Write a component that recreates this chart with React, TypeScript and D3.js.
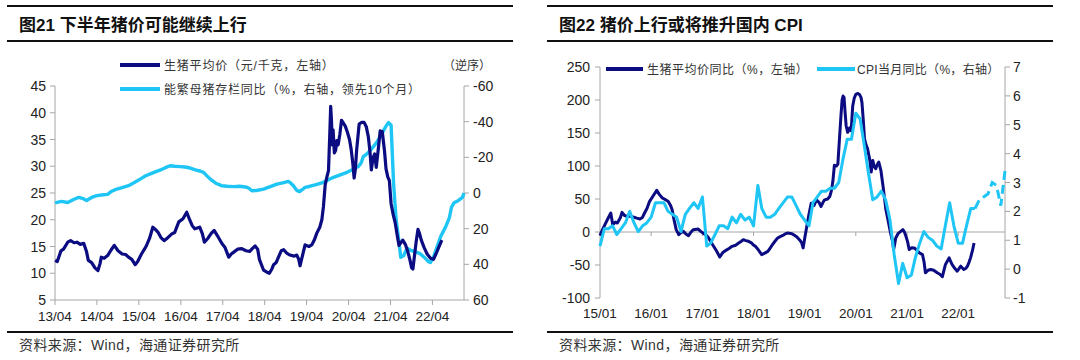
import * as d3 from 'd3';

// 图21: 生猪平均价 (元/千克) — [年份(20xx, 小数), 值]
const pigPrice: [number, number][] = [
  [13.25, 12.4], [13.3, 12.2], [13.39, 14.2], [13.45, 14.5], [13.55, 15.8], [13.62, 16.1], [13.7, 15.7],
  [13.77, 15.8], [13.85, 15.4], [13.93, 15.6], [14.0, 14.0], [14.04, 12.4], [14.12, 12.0], [14.2, 11.0],
  [14.27, 10.5], [14.32, 11.8], [14.35, 13.0], [14.42, 12.8], [14.5, 13.3], [14.58, 14.3], [14.66, 15.2],
  [14.75, 14.2], [14.85, 13.6], [14.93, 13.5], [15.0, 13.0], [15.08, 12.6], [15.16, 11.6], [15.22, 12.2],
  [15.31, 13.6], [15.38, 14.5], [15.43, 15.2], [15.5, 16.5], [15.58, 18.6], [15.64, 18.2], [15.7, 17.7],
  [15.78, 16.6], [15.85, 16.1], [15.93, 16.6], [16.04, 17.4], [16.1, 17.6], [16.2, 19.6], [16.3, 20.2],
  [16.39, 21.4], [16.45, 20.2], [16.52, 18.9], [16.58, 18.3], [16.7, 18.6], [16.76, 17.4], [16.81, 15.8],
  [16.9, 16.6], [16.97, 17.4], [17.04, 18.0], [17.12, 17.0], [17.23, 15.5], [17.3, 14.8], [17.39, 13.0],
  [17.45, 13.6], [17.5, 13.9], [17.6, 14.5], [17.7, 14.6], [17.8, 14.2], [17.89, 14.1], [17.95, 14.6],
  [18.02, 15.1], [18.08, 14.5], [18.12, 12.6], [18.22, 10.6], [18.3, 10.2], [18.36, 10.0], [18.42, 10.8],
  [18.46, 11.6], [18.52, 12.0], [18.58, 13.1], [18.64, 14.2], [18.7, 14.4], [18.78, 13.7], [18.85, 13.4],
  [18.95, 13.2], [19.01, 13.4], [19.06, 12.6], [19.09, 11.4], [19.14, 13.0], [19.21, 15.3], [19.3, 15.0],
  [19.37, 15.3], [19.43, 16.2], [19.49, 17.5], [19.56, 18.6], [19.61, 20.0], [19.65, 22.5], [19.69, 26.5],
  [19.73, 28.0], [19.77, 29.2], [19.8, 36.0], [19.82, 41.2], [19.84, 38.5], [19.86, 34.0], [19.88, 36.8],
  [19.91, 32.5], [19.94, 33.0], [19.97, 34.8], [20.0, 34.0], [20.04, 36.0], [20.08, 38.6], [20.13, 38.0],
  [20.17, 37.5], [20.22, 36.4], [20.27, 35.0], [20.31, 33.2], [20.35, 30.5], [20.38, 27.8], [20.41, 29.5],
  [20.44, 33.0], [20.5, 37.9], [20.56, 38.2], [20.62, 38.2], [20.67, 37.4], [20.72, 35.5], [20.76, 32.5],
  [20.79, 29.3], [20.83, 31.5], [20.87, 32.3], [20.91, 29.8], [20.96, 33.5], [21.0, 36.6], [21.05, 36.5],
  [21.1, 33.0], [21.14, 29.5], [21.18, 28.0], [21.22, 27.3], [21.26, 23.0], [21.31, 21.0], [21.36, 19.4],
  [21.42, 16.5], [21.45, 15.2], [21.5, 15.8], [21.54, 16.2], [21.6, 15.4], [21.66, 14.0], [21.71, 12.5],
  [21.75, 11.0], [21.78, 10.8], [21.82, 13.5], [21.86, 16.0], [21.9, 18.2], [21.94, 17.4], [21.98, 16.2],
  [22.05, 14.8], [22.12, 13.6], [22.2, 12.8], [22.27, 12.6], [22.33, 13.6], [22.39, 14.7], [22.47, 16.2],
];

// 图21: 能繁母猪存栏同比 (%, 右轴逆序, 领先10个月)
const sowYoY: [number, number][] = [
  [13.25, 5.5], [13.4, 4.7], [13.55, 5.3], [13.7, 3.5], [13.81, 2.5], [13.92, 3.2], [14.0, 4.2],
  [14.12, 2.5], [14.24, 1.5], [14.4, 1.0], [14.5, 0.8], [14.6, -1.0], [14.7, -2.0], [14.85, -3.0],
  [15.0, -4.1], [15.15, -6.0], [15.28, -7.8], [15.4, -9.5], [15.52, -10.7], [15.64, -11.8], [15.75, -12.8],
  [15.88, -14.2], [15.99, -15.3], [16.1, -15.0], [16.23, -14.8], [16.35, -14.6], [16.47, -14.0],
  [16.6, -13.0], [16.72, -12.2], [16.79, -11.6], [16.87, -9.6], [16.95, -7.8], [17.08, -5.5],
  [17.22, -4.1], [17.35, -3.8], [17.5, -3.6], [17.65, -3.8], [17.82, -3.2], [17.88, -2.5], [17.94, -1.3],
  [18.05, -1.4], [18.22, -2.2], [18.38, -3.6], [18.54, -5.0], [18.7, -5.8], [18.81, -6.5], [18.87, -5.5],
  [18.93, -4.1], [19.01, -1.5], [19.08, -0.8], [19.15, -2.0], [19.21, -3.2], [19.33, -3.8], [19.45, -4.5],
  [19.55, -5.2], [19.65, -6.0], [19.77, -7.5], [19.89, -8.8], [20.05, -10.2], [20.21, -11.6],
  [20.35, -13.2], [20.48, -14.8], [20.55, -17.0], [20.6, -20.4], [20.68, -21.8], [20.76, -23.8],
  [20.84, -26.0], [20.92, -28.5], [21.0, -31.5], [21.08, -35.0], [21.14, -37.5], [21.2, -39.5],
  [21.26, -38.0], [21.32, -5.0], [21.38, 15.0], [21.44, 26.0], [21.49, 36.0], [21.56, 35.0],
  [21.64, 31.0], [21.72, 32.0], [21.84, 33.0], [21.95, 34.0], [22.05, 36.0], [22.15, 38.5], [22.2, 39.0],
  [22.28, 35.5], [22.36, 30.0], [22.44, 24.5], [22.56, 19.0], [22.65, 14.0], [22.7, 8.0], [22.76, 5.5],
  [22.86, 4.3], [22.96, 2.5], [23.0, 0.0],
];

// 图22: 生猪平均价同比 (%, 左轴)
const pigYoY: [number, number][] = [
  [15.0, -5.6], [15.05, 3.5], [15.1, 12], [15.15, 19.7], [15.21, 28.8], [15.25, 11], [15.3, 15],
  [15.34, 13.6], [15.4, 22], [15.43, 29.8], [15.48, 25], [15.53, 23.7], [15.6, 24], [15.65, 22.7],
  [15.72, 21], [15.78, 19.7], [15.83, 22], [15.87, 28.8], [15.92, 36], [15.97, 46.5], [16.04, 55],
  [16.11, 63.1], [16.16, 57], [16.22, 51.5], [16.28, 49], [16.33, 46.5], [16.38, 40], [16.41, 33.8],
  [16.45, 18], [16.49, 3.5], [16.54, -4], [16.58, -1], [16.63, 1], [16.68, -3], [16.73, -5.6],
  [16.78, 0], [16.82, 3.5], [16.92, 4.5], [16.97, 1], [17.01, -1.5], [17.06, -4], [17.11, -7.6],
  [17.16, -14], [17.2, -19.2], [17.27, -28], [17.34, -37.9], [17.4, -31], [17.46, -27.8], [17.52, -25],
  [17.58, -21.7], [17.65, -20], [17.71, -16.7], [17.76, -14], [17.8, -11.6], [17.85, -13], [17.9, -14.1],
  [17.95, -16], [17.99, -19.2], [18.04, -22], [18.09, -26.8], [18.16, -34.3], [18.22, -32], [18.28, -29.3],
  [18.32, -25], [18.37, -19.2], [18.42, -14], [18.47, -9.1], [18.52, -7], [18.56, -5.6], [18.62, -3],
  [18.66, -1.5], [18.7, -2], [18.75, -2.5], [18.8, -5], [18.85, -7.6], [18.9, -12], [18.94, -16],
  [18.97, -24.1], [19.0, -10], [19.03, 3.5], [19.08, 25], [19.13, 43.7], [19.18, 40], [19.23, 48.7],
  [19.28, 45], [19.32, 38.7], [19.36, 45], [19.39, 48.7], [19.45, 50], [19.49, 53.8], [19.52, 62],
  [19.55, 76], [19.58, 101], [19.62, 100], [19.65, 103], [19.68, 140], [19.71, 176], [19.73, 200],
  [19.75, 206], [19.77, 204], [19.79, 180], [19.81, 161], [19.84, 151], [19.88, 158], [19.91, 153.5],
  [19.94, 191], [19.97, 203], [20.0, 208.5], [20.04, 210], [20.07, 208.5], [20.1, 204], [20.12, 196],
  [20.15, 165], [20.17, 141], [20.2, 132], [20.23, 126], [20.27, 110], [20.3, 91], [20.33, 108.5],
  [20.36, 100], [20.39, 96], [20.42, 102], [20.45, 106], [20.49, 93.5], [20.53, 70], [20.56, 51],
  [20.59, 33.7], [20.63, 18], [20.68, -1.5], [20.72, -15], [20.74, -26.6], [20.76, -18], [20.78, -9],
  [20.83, -2], [20.88, 1], [20.92, 3.5], [20.95, 0], [20.98, -6.5], [21.01, -15], [21.04, -26.6],
  [21.09, -24], [21.14, -24.1], [21.2, -28], [21.24, -31.7], [21.3, -34.2], [21.33, -45], [21.36, -61.8],
  [21.41, -58], [21.46, -56.8], [21.52, -58], [21.59, -61.8], [21.64, -64], [21.69, -67.8], [21.72, -58],
  [21.75, -49.2], [21.82, -39.2], [21.85, -44], [21.88, -49.2], [21.93, -55], [21.98, -59.3], [22.02, -55],
  [22.05, -51.8], [22.11, -56.8], [22.15, -55], [22.18, -51.8], [22.21, -46], [22.24, -39.2], [22.28, -28],
  [22.31, -16.6],
];

// 图22: CPI当月同比 (%, 右轴), 月度, 自 2015-01 起
const cpiStart = new Date(2015, 0, 1);
const cpiValues = [
  0.8, 1.4, 1.4, 1.5, 1.2, 1.4, 1.6, 2.0, 1.6, 1.3, 1.5, 1.6,
  1.8, 2.3, 2.3, 2.3, 2.0, 1.9, 1.8, 1.3, 1.9, 2.1, 2.3, 2.1,
  2.5, 0.8, 0.9, 1.2, 1.5, 1.5, 1.4, 1.8, 1.6, 1.9, 1.7, 1.8,
  1.5, 2.9, 2.1, 1.8, 1.8, 1.9, 2.1, 2.3, 2.5, 2.5, 2.2, 1.9,
  1.7, 1.5, 2.3, 2.5, 2.7, 2.7, 2.8, 2.8, 3.0, 3.8, 4.5, 4.5,
  5.4, 5.2, 4.3, 3.3, 2.4, 2.5, 2.7, 2.4, 1.7, 0.5, -0.5, 0.2,
  -0.3, -0.2, 0.4, 0.9, 1.3, 1.1, 1.0, 0.8, 0.7, 1.5, 2.3, 1.5,
  0.9, 0.9, 1.5, 2.1, 2.1,
];
// 预测(虚线), 自 2022-05 起
const cpiFcStart = new Date(2022, 4, 1);
const cpiForecast = [2.1, 2.4, 2.5, 2.6, 3.0, 2.9, 2.2, 3.4];

const leftTicksA = [5, 10, 15, 20, 25, 30, 35, 40, 45];
const rightTicksA = [-60, -40, -20, 0, 20, 40, 60];
const leftTicksB = [-100, -50, 0, 50, 100, 150, 200, 250];
const rightTicksB = [-1, 0, 1, 2, 3, 4, 5, 6, 7];

const NAVY = '#0b0b82';
const CYAN = '#1ec5f5';
const AXIS = '#a6a6a6';
const FONT = '"Liberation Sans", "Noto Sans CJK SC", sans-serif';
const fmt = d3.timeFormat('%y/%m');

const toDate = (t: number) => {
  const yr = Math.floor(t);
  return new Date(2000 + yr, 0, 1 + Math.round((t - yr) * 365.25));
};

function Frame({ x0, x1, title }: { x0: number; x1: number; title: string }) {
  return (
    <g>
      <line x1={x0} x2={x1} y1={6} y2={6} stroke="#111" strokeWidth={2.2} />
      <text x={x0 + 12} y={31} fontSize={17} fontWeight={700} fill="#111" fontFamily={FONT}>{title}</text>
      <line x1={x0} x2={x1} y1={41} y2={41} stroke="#111" strokeWidth={2.2} />
      <line x1={x0} x2={x1} y1={332} y2={332} stroke="#111" strokeWidth={2.2} />
      <text x={x0 + 12} y={350} fontSize={14} fill="#333" fontFamily={FONT} letterSpacing={0.4}>资料来源：Wind，海通证券研究所</text>
    </g>
  );
}

function ChartA() {
  const start = new Date(2013, 3, 1);
  const end = new Date(2023, 0, 1);
  const x = d3.scaleTime().domain([start, end]).range([55, 464]);
  const y = d3.scaleLinear().domain([5, 45]).range([300, 86]);
  const yr = d3.scaleLinear().domain([-60, 60]).range([86, 300]);
  const xt = d3.timeMonth.range(start, end, 12);
  const priceLine = d3.line<[number, number]>().x(d => x(toDate(d[0]))).y(d => y(d[1]));
  const sowLine = d3.line<[number, number]>().x(d => x(toDate(d[0]))).y(d => yr(d[1]));
  return (
    <g fontFamily={FONT}>
      <Frame x0={7} x1={513} title="图21 下半年猪价可能继续上行" />
      <line x1={55} x2={55} y1={86} y2={300} stroke={AXIS} />
      <line x1={464} x2={464} y1={86} y2={300} stroke={AXIS} />
      <line x1={55} x2={464} y1={300} y2={300} stroke={AXIS} />
      {leftTicksA.map(v => (
        <g key={'l' + v}>
          <line x1={50} x2={55} y1={y(v)} y2={y(v)} stroke={AXIS} />
          <text x={46} y={y(v) + 5} textAnchor="end" fontSize={14} fill="#222">{v}</text>
        </g>
      ))}
      {rightTicksA.map(v => (
        <g key={'r' + v}>
          <line x1={464} x2={469} y1={yr(v)} y2={yr(v)} stroke={AXIS} />
          <text x={473} y={yr(v) + 5} fontSize={14} fill="#222">{v}</text>
        </g>
      ))}
      {xt.map(d => (
        <g key={+d}>
          <line x1={x(d)} x2={x(d)} y1={300} y2={305} stroke={AXIS} />
          <text x={x(d)} y={321} textAnchor="middle" fontSize={13.5} fill="#222">{fmt(d)}</text>
        </g>
      ))}
      <path d={sowLine(sowYoY) ?? ''} fill="none" stroke={CYAN} strokeWidth={3.4} strokeLinejoin="round" />
      <path d={priceLine(pigPrice) ?? ''} fill="none" stroke={NAVY} strokeWidth={3.2} strokeLinejoin="round" />
      <line x1={120} x2={160} y1={65} y2={65} stroke={NAVY} strokeWidth={4} />
      <text x={164} y={69.5} fontSize={12} fill="#333" letterSpacing={0.8}>生猪平均价（元/千克，左轴）</text>
      <line x1={120} x2={160} y1={89} y2={89} stroke={CYAN} strokeWidth={4} />
      <text x={164} y={93.5} fontSize={12} fill="#333" letterSpacing={0.8}>能繁母猪存栏同比（%，右轴，领先10个月）</text>
      <text x={443} y={69.5} fontSize={12} fill="#333">（逆序）</text>
    </g>
  );
}

function ChartB() {
  const start = new Date(2015, 0, 1);
  const end = new Date(2022, 11, 1);
  const x = d3.scaleTime().domain([start, end]).range([600, 1005]);
  const y = d3.scaleLinear().domain([-100, 250]).range([298, 67]);
  const yr = d3.scaleLinear().domain([-1, 7]).range([298, 67]);
  const xt = d3.timeMonth.range(start, end, 12);
  const pigLine = d3.line<[number, number]>().x(d => x(toDate(d[0]))).y(d => y(d[1]));
  const cpiLine = d3.line<number>().x((_, i) => x(d3.timeMonth.offset(cpiStart, i))).y(d => yr(d));
  const fcLine = d3.line<number>().x((_, i) => x(d3.timeMonth.offset(cpiFcStart, i))).y(d => yr(d));
  return (
    <g fontFamily={FONT}>
      <Frame x0={547} x1={1053} title="图22 猪价上行或将推升国内 CPI" />
      <line x1={600} x2={600} y1={67} y2={298} stroke={AXIS} />
      <line x1={1005} x2={1005} y1={67} y2={298} stroke={AXIS} />
      <line x1={600} x2={1005} y1={y(0)} y2={y(0)} stroke={AXIS} />
      {leftTicksB.map(v => (
        <g key={'l' + v}>
          <line x1={595} x2={600} y1={y(v)} y2={y(v)} stroke={AXIS} />
          <text x={590} y={y(v) + 5} textAnchor="end" fontSize={14} fill="#222">{v}</text>
        </g>
      ))}
      {rightTicksB.map(v => (
        <g key={'r' + v}>
          <line x1={1005} x2={1010} y1={yr(v)} y2={yr(v)} stroke={AXIS} />
          <text x={1013} y={yr(v) + 5} fontSize={14} fill="#222">{v}</text>
        </g>
      ))}
      {xt.map(d => (
        <g key={+d}>
          <line x1={x(d)} x2={x(d)} y1={y(0)} y2={y(0) + 4} stroke={AXIS} />
          <text x={x(d)} y={318} textAnchor="middle" fontSize={13.5} fill="#222">{fmt(d)}</text>
        </g>
      ))}
      <path d={pigLine(pigYoY) ?? ''} fill="none" stroke={NAVY} strokeWidth={3} strokeLinejoin="round" />
      <path d={cpiLine(cpiValues) ?? ''} fill="none" stroke={CYAN} strokeWidth={3} strokeLinejoin="round" />
      <path d={fcLine(cpiForecast) ?? ''} fill="none" stroke={CYAN} strokeWidth={3} strokeDasharray="9,5" />
      <line x1={606} x2={643} y1={69} y2={69} stroke={NAVY} strokeWidth={4} />
      <text x={647} y={73.5} fontSize={12} fill="#333" letterSpacing={0.5}>生猪平均价同比（%，左轴）</text>
      <line x1={817} x2={855} y1={69} y2={69} stroke={CYAN} strokeWidth={4} />
      <text x={857} y={73.5} fontSize={12} fill="#333" letterSpacing={0.3}>CPI当月同比（%，右轴）</text>
    </g>
  );
}

export default function App() {
  return (
    <svg width={1080} height={360} style={{ position: 'absolute', left: 0, top: 0, background: '#fff' }}>
      <rect width={1080} height={360} fill="#fff" />
      <ChartA />
      <ChartB />
    </svg>
  );
}
